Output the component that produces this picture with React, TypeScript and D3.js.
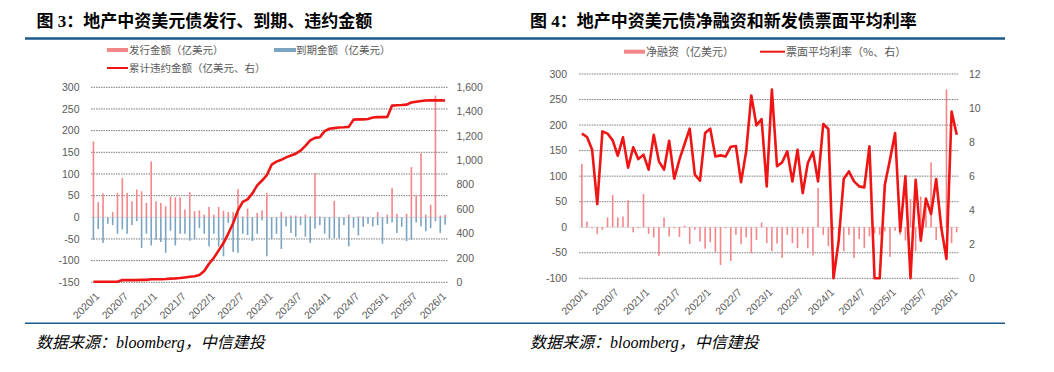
import React from 'react';
import * as d3 from 'd3';

const months: string[] = Array.from({ length: 74 }, (_, i) => `${2020 + Math.floor(i / 12)}/${(i % 12) + 1}`);
const tickLabels = ["2020/1", "2020/7", "2021/1", "2021/7", "2022/1", "2022/7", "2023/1", "2023/7", "2024/1", "2024/7", "2025/1", "2025/7", "2026/1"];

// Figure 3
const issuance = [175, 35, 55, 0, 12, 56, 91, 56, 37, 64, 60, 33, 129, 37, 33, 25, 48, 46, 46, 18, 58, 14, 16, 6, 24, 6, 24, 15, 12, 12, 65, 2, 20, 0, 10, 16,
  56, 0, 0, 12, 2, 4, 4, 2, 6, 2, 102, 2, 0, 0, 38, 0, 0, 6, 0, 2, 2, 0, 0, 12, 0, 6, 68, 8, 0, 8, 116, 52, 148, 6, 29, 281, 4, 6];
const maturity = [-52, -27, -59, -15, -18, -38, -28, -38, -18, -9, -71, -38, -65, -52, -57, -82, -31, -65, -38, -38, -54, -51, -25, -38, -67, -38, -67, -90, -13, -80, -82, -38, -41, -55, -38, -7,
  -90, -50, -38, -73, -21, -36, -45, -18, -45, -59, -26, -18, -38, -48, -48, -48, -18, -67, -24, -42, -22, -15, -21, -18, -61, -15, -12, -36, -22, -55, -52, -12, -21, -32, -25, -9, -36, -17];
const cumulativeDefault = [5, 5, 5, 5, 5, 5, 18, 18, 18, 18,
  20, 20, 25, 25, 25, 27, 30, 32, 35, 40,
  45, 50, 60, 92, 152, 200, 262, 322, 400, 485,
  590, 660, 680, 730, 795, 835, 880, 965, 990, 1005,
  1025, 1040, 1055, 1080, 1120, 1165, 1185, 1190, 1240, 1260,
  1265, 1270, 1272, 1275, 1335, 1337, 1337, 1340, 1352, 1355,
  1355, 1356, 1450, 1453, 1455, 1458, 1475, 1482, 1488, 1492,
  1493, 1493, 1493, 1492];
const fig3LeftTicks = [-150, -100, -50, 0, 50, 100, 150, 200, 250, 300];
const fig3RightTicks = [0, 200, 400, 600, 800, 1000, 1200, 1400, 1600];

// Figure 4
const netFinancing = [124, 11, -2, -13, -5, 19, 63, 19, 21, 53, -10, -2, 65, -13, -20, -56, 19, -18, -2, -19, 3, -33, -5, -28, -42, -29, -49, -74, -2, -66, -15, -33, -20, -51, -25, 9,
  -31, -47, -32, -60, -15, -31, -41, -13, -41, -55, 77, -15, -37, -5, -21, -47, -15, -60, -23, -41, -18, -12, -15, -8, -58, -7, -15, -26, 55, -47, 60, 45, 127, -25, 5, 270, -31, -10];
const couponRate = [8.5, 8.3, 7.55, 4.36, 8.63, 8.5, 8.1, 7.2, 8.28, 6.5,
  7.7, 7.0, 7.26, 6.38, 8.43, 6.87, 6.38, 8.08, 5.85, 6.97,
  7.89, 8.79, 6.09, 5.73, 8.53, 8.79, 7.16, 7.22, 7.16, 7.73,
  7.77, 5.64, 7.46, 10.74, 8.98, 9.35, 5.4, 11.08, 6.58, 6.81,
  7.46, 5.69, 7.55, 5.0, 6.77, 7.42, 5.69, 9.06, 8.77, 0,
  2.17, 5.85, 6.28, 5.69, 5.4, 5.34, 7.75, 0, 0, 5.5,
  6.97, 8.53, 2.76, 5.99, 0, 5.79, 2.21, 4.68, 3.78, 5.83,
  2.95, 1.13, 9.8, 8.43];
const fig4LeftTicks = [-100, -50, 0, 50, 100, 150, 200, 250, 300];
const fig4RightTicks = [0, 2, 4, 6, 8, 10, 12];

const PINK = '#f4868a';
const BLUE = '#7ba3c2';
const RED = '#ee1515';
const AXIS_FONT = "'Liberation Sans', Arial, sans-serif";
const CJK_FONT = "'Noto Sans CJK SC', sans-serif";
const TITLE_FONT = "'Liberation Serif', 'Noto Sans CJK SC', serif";
const TXT = '#595959';

type Frame = { x0: number; x1: number; yTop: number; yBot: number };

function Grid({ f, ticks, y }: { f: Frame; ticks: number[]; y: d3.ScaleLinear<number, number> }) {
  return (
    <g>
      {ticks.map((t) => (
        <line key={t} x1={f.x0} x2={f.x1} y1={y(t)} y2={y(t)}
          stroke={t === 0 ? '#d6d6d6' : '#7a7a7a'} strokeWidth={1}
          strokeDasharray={t === 0 ? undefined : '1.5 1'} />
      ))}
    </g>
  );
}

function XLabels({ x, f }: { x: d3.ScaleBand<string>; f: Frame }) {
  return (
    <g>
      {tickLabels.map((l) => {
        const cx = (x(l) as number) + x.bandwidth() / 2;
        return (
          <text key={l} transform={`translate(${cx + 4},${f.yBot + 12}) rotate(-45)`} textAnchor="end" dy="0.35em"
            fontFamily={AXIS_FONT} fontSize={10.5} fill={TXT}>{l}</text>
        );
      })}
    </g>
  );
}

function Figure3() {
  const f: Frame = { x0: 91, x1: 447.5, yTop: 87.3, yBot: 282.3 };
  const x = d3.scaleBand<string>().domain(months).range([f.x0, f.x1]).padding(0);
  const yL = d3.scaleLinear().domain([-150, 300]).range([f.yBot, f.yTop]);
  const yR = d3.scaleLinear().domain([0, 1600]).range([f.yBot, f.yTop]);
  const cx = (i: number) => (x(months[i]) as number) + x.bandwidth() / 2;
  const line = d3.line<number>().x((_, i) => cx(i)).y((d) => yR(d));
  const fmt = d3.format(',');
  return (
    <g>
      <Grid f={f} ticks={fig3LeftTicks} y={yL} />
      {fig3LeftTicks.map((t) => (
        <text key={t} x={79.5} y={yL(t)} dy="0.35em" textAnchor="end" fontFamily={AXIS_FONT} fontSize={10.5} fill={TXT}>{t}</text>
      ))}
      {fig3RightTicks.map((t) => (
        <text key={t} x={456.5} y={yR(t)} dy="0.35em" textAnchor="start" fontFamily={AXIS_FONT} fontSize={10.5} fill={TXT}>{fmt(t)}</text>
      ))}
      {issuance.map((v, i) => v > 0 ? (
        <rect key={'i' + i} x={cx(i) - 0.8} width={1.6} y={yL(v)} height={yL(0) - yL(v)} fill={PINK} />
      ) : null)}
      {maturity.map((v, i) => v < 0 ? (
        <rect key={'m' + i} x={cx(i) - 0.8} width={1.6} y={yL(0)} height={yL(v) - yL(0)} fill={BLUE} />
      ) : null)}
      <path d={line(cumulativeDefault) || ''} fill="none" stroke={RED} strokeWidth={2.6} strokeLinejoin="round" />
      <XLabels x={x} f={f} />
      {/* legend */}
      <rect x={107} y={48} width={21} height={4} fill={PINK} />
      <text x={129} y={50} dy="0.35em" fontFamily={CJK_FONT} fontSize={10.5} fill={TXT}>发行金额（亿美元）</text>
      <rect x={274} y={48} width={22} height={4} fill={BLUE} />
      <text x={296} y={50} dy="0.35em" fontFamily={CJK_FONT} fontSize={10.5} fill={TXT}>到期金额（亿美元）</text>
      <line x1={107} x2={128} y1={68} y2={68} stroke={RED} strokeWidth={2} />
      <text x={129} y={68} dy="0.35em" fontFamily={CJK_FONT} fontSize={10.5} fill={TXT}>累计违约金额（亿美元、右）</text>
    </g>
  );
}

function Figure4() {
  const f: Frame = { x0: 579.3, x1: 959.3, yTop: 74, yBot: 278.3 };
  const x = d3.scaleBand<string>().domain(months).range([f.x0, f.x1]).padding(0);
  const yL = d3.scaleLinear().domain([-100, 300]).range([f.yBot, f.yTop]);
  const yR = d3.scaleLinear().domain([0, 12]).range([f.yBot, f.yTop]);
  const cx = (i: number) => (x(months[i]) as number) + x.bandwidth() / 2;
  const line = d3.line<number>().x((_, i) => cx(i)).y((d) => yR(d));
  return (
    <g>
      <Grid f={f} ticks={fig4LeftTicks} y={yL} />
      {fig4LeftTicks.map((t) => (
        <text key={t} x={567} y={yL(t)} dy="0.35em" textAnchor="end" fontFamily={AXIS_FONT} fontSize={10.5} fill={TXT}>{t}</text>
      ))}
      {fig4RightTicks.map((t) => (
        <text key={t} x={969} y={yR(t)} dy="0.35em" textAnchor="start" fontFamily={AXIS_FONT} fontSize={10.5} fill={TXT}>{t}</text>
      ))}
      {netFinancing.map((v, i) => (
        <rect key={'n' + i} x={cx(i) - 0.8} width={1.6} y={yL(Math.max(v, 0))} height={Math.abs(yL(v) - yL(0))} fill={PINK} />
      ))}
      <path d={line(couponRate) || ''} fill="none" stroke={RED} strokeWidth={2.6} strokeLinejoin="round" />
      <XLabels x={x} f={f} />
      <rect x={624} y={49.7} width={21} height={4} fill={PINK} />
      <text x={646} y={51.7} dy="0.35em" fontFamily={CJK_FONT} fontSize={11} fill={TXT}>净融资（亿美元）</text>
      <line x1={760} x2={785} y1={51.7} y2={51.7} stroke={RED} strokeWidth={2} />
      <text x={786} y={51.7} dy="0.35em" fontFamily={CJK_FONT} fontSize={11} fill={TXT}>票面平均利率（%、右）</text>
    </g>
  );
}

export default function App() {
  return (
    <svg width={1054} height={372} style={{ position: 'absolute', left: 0, top: 0, background: '#fff' }}>
      <rect x={0} y={0} width={1054} height={372} fill="#fff" />
      <text x={36.5} y={26.5} fontFamily={TITLE_FONT} fontWeight="bold" fontSize={17} fill="#000">图 3：地产中资美元债发行、到期、违约金额</text>
      <text x={530} y={26.5} fontFamily={TITLE_FONT} fontWeight="bold" fontSize={17} fill="#000">图 4：地产中资美元债净融资和新发债票面平均利率</text>
      <line x1={25} x2={1005} y1={38.5} y2={38.5} stroke="#1d5a8a" strokeWidth={2.5} />
      <Figure3 />
      <Figure4 />
      <line x1={25} x2={1005} y1={323.3} y2={323.3} stroke="#1d5a8a" strokeWidth={1.6} />
      <text x={36} y={347.5} fontFamily={TITLE_FONT} fontStyle="italic" fontSize={16} fill="#000">数据来源：bloomberg，中信建投</text>
      <text x={530} y={347.5} fontFamily={TITLE_FONT} fontStyle="italic" fontSize={16} fill="#000">数据来源：bloomberg，中信建投</text>
    </svg>
  );
}
